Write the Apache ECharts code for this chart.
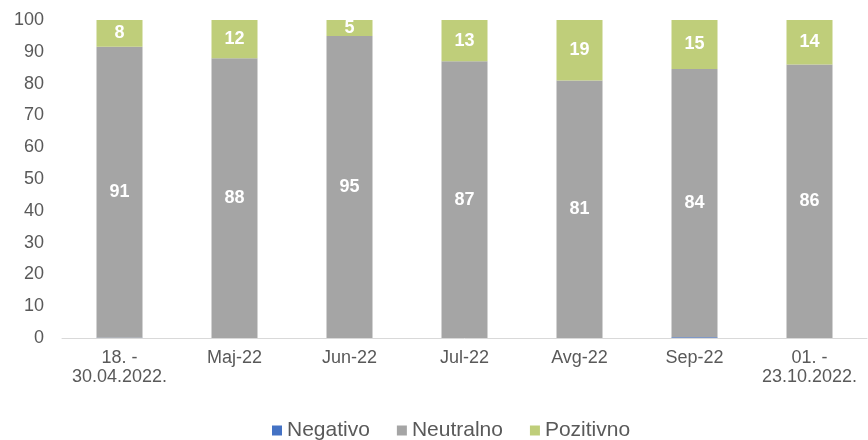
<!DOCTYPE html>
<html><head><meta charset="utf-8">
<script src="https://cdn.jsdelivr.net/npm/echarts@6/dist/echarts.min.js"></script>
<style>html,body{margin:0;padding:0;background:#fff}#c{width:868px;height:440px}</style>
</head><body><div id="c"></div>
<script>
const categories = ['18. -\n30.04.2022.', 'Maj-22', 'Jun-22', 'Jul-22', 'Avg-22', 'Sep-22', '01. -\n23.10.2022.'];
const negativo = [0.1, 0, 0, 0, 0, 0.2, 0];
const neutralno = [91.45, 88, 95, 87, 81, 84.4, 86];
const pozitivno = [8.45, 12, 5, 13, 19, 15.4, 14];
const yTicks = {min: 0, max: 100, interval: 10};

const font = 'Liberation Sans, Arial, sans-serif';
const lbl = {show: true, color: '#fff', fontWeight: 'bold', fontSize: 18, fontFamily: font,
  formatter: p => Math.round(p.value)};
const chart = echarts.init(document.getElementById('c'));
chart.setOption({
  animation: false,
  grid: {left: 62, right: 1, top: 20, bottom: 102},
  legend: {top: 420, left: 272, padding: 0, itemWidth: 10, itemHeight: 10, itemGap: 27,
    icon: 'rect', textStyle: {color: '#595959', fontSize: 21, fontFamily: font},
    data: ['Negativo', 'Neutralno', 'Pozitivno']},
  xAxis: {type: 'category', data: categories,
    axisLine: {lineStyle: {color: '#D9D9D9', width: 1}}, axisTick: {show: false},
    axisLabel: {color: '#595959', fontSize: 18, fontFamily: font, margin: 11, lineHeight: 19, interval: 0}},
  yAxis: {type: 'value', min: yTicks.min, max: yTicks.max, interval: yTicks.interval,
    splitLine: {show: false}, axisLine: {show: false}, axisTick: {show: false},
    axisLabel: {color: '#595959', fontSize: 18, fontFamily: font, margin: 18}},
  series: [
    {name: 'Negativo', type: 'bar', stack: 's', data: negativo, barWidth: 46, itemStyle: {color: '#4472C4'}},
    {name: 'Neutralno', type: 'bar', stack: 's', data: neutralno, barWidth: 46, itemStyle: {color: '#A5A5A5'}, label: lbl},
    {name: 'Pozitivno', type: 'bar', stack: 's', data: pozitivno, barWidth: 46, itemStyle: {color: '#BFCE7A'}, label: lbl}
  ]
});
</script></body></html>
